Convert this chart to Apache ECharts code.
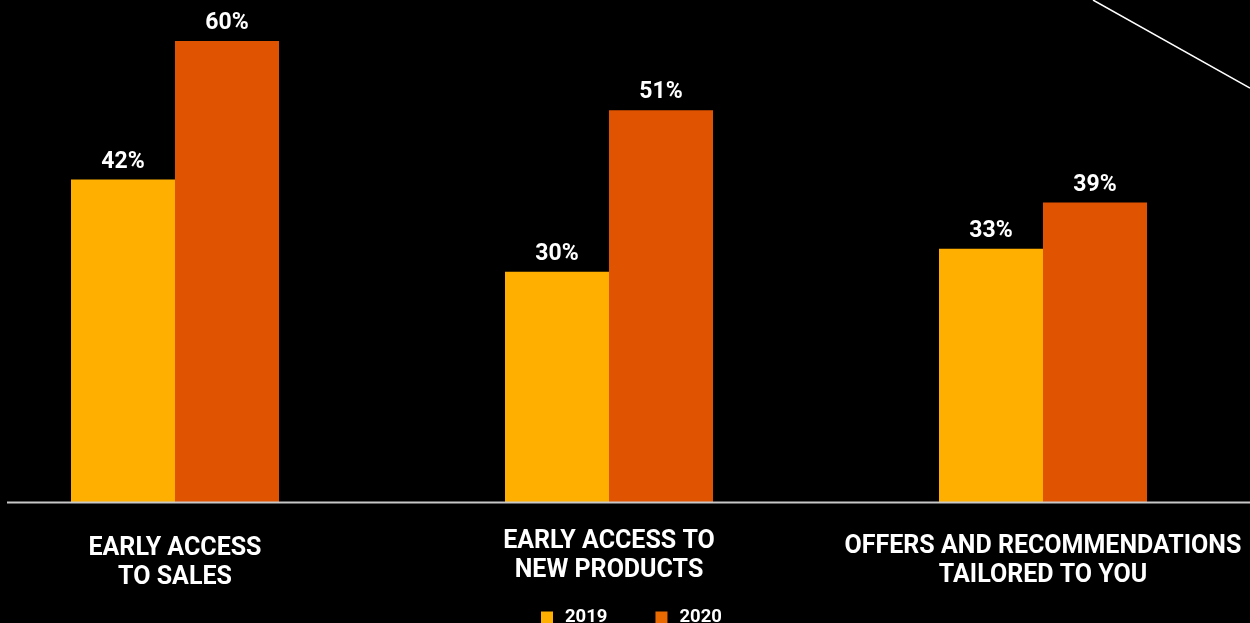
<!DOCTYPE html>
<html>
<head>
<meta charset="utf-8">
<script src="https://cdn.jsdelivr.net/npm/echarts@6/dist/echarts.min.js"></script>
<style>
  html, body { margin: 0; padding: 0; background: #000; }
  #chart { width: 1250px; height: 623px; }
</style>
</head>
<body>
<div id="chart"></div>
<script>
// Benefits valued by members, share of respondents by year
const categories = [
  'EARLY ACCESS\nTO SALES',
  'EARLY ACCESS TO\nNEW PRODUCTS',
  'OFFERS AND RECOMMENDATIONS\nTAILORED TO YOU'
];
const seriesNames = ['2019', '2020'];
const values2019 = [42, 30, 33];
const values2020 = [60, 51, 39];

// small per-category nudges of the axis label block
const labelOffsets = [7, 0, 5];

const COLOR_2019 = '#FFAF00';
const COLOR_2020 = '#E05300';
const FONT = 'Roboto, "Noto Sans", sans-serif';

const chart = echarts.init(document.getElementById('chart'), null, { renderer: 'canvas' });

const valueLabel = {
  show: true,
  position: 'top',
  distance: 6,
  formatter: '{c}%',
  color: '#fff',
  fontFamily: FONT,
  fontWeight: 'bold',
  fontSize: 23
};

chart.setOption({
  backgroundColor: '#000',
  animation: false,
  grid: {
    left: -42, width: 1302, top: 41, bottom: 120.5,
    containLabel: false,
    outerBoundsMode: 'none'
  },
  legend: {
    data: [
      { name: seriesNames[0], itemStyle: { color: COLOR_2019 } },
      { name: seriesNames[1], itemStyle: { color: '#E86A00' } }
    ],
    left: 541,
    top: 608,
    padding: 0,
    itemWidth: 12,
    itemHeight: 12,
    itemGap: 48,
    icon: 'rect',
    textStyle: {
      color: '#fff', fontFamily: FONT, fontWeight: 'bold',
      fontSize: 18.5, lineHeight: 12, padding: [0, 0, 0, 7]
    }
  },
  xAxis: {
    type: 'category',
    data: categories.map((c, i) => ({ value: c, textStyle: { padding: [labelOffsets[i], 0, 0, 0] } })),
    axisLine: { show: false },
    axisTick: { show: false },
    axisLabel: {
      color: '#fff',
      fontFamily: FONT,
      fontWeight: 'bold',
      fontSize: 25,
      lineHeight: 29,
      margin: 25,
      interval: 0
    }
  },
  yAxis: {
    type: 'value',
    min: 0,
    max: v => v.max,
    show: false,
    splitLine: { show: false }
  },
  series: [
    {
      name: seriesNames[0], type: 'bar', data: values2019,
      barWidth: 104, barGap: '0%',
      itemStyle: { color: COLOR_2019 },
      label: valueLabel
    },
    {
      name: seriesNames[1], type: 'bar', data: values2020,
      barWidth: 104, barGap: '0%',
      itemStyle: { color: COLOR_2020 },
      label: valueLabel
    }
  ]
});

// baseline rule across the chart and the thin diagonal accent at top right
const baseY = chart.convertToPixel({ yAxisIndex: 0 }, 0);
chart.setOption({
  graphic: [
    {
      type: 'line',
      shape: { x1: 7, y1: baseY, x2: 1250, y2: baseY },
      style: { stroke: '#c8c8c8', lineWidth: 2 },
      z: 10
    },
    {
      type: 'line',
      shape: { x1: 1093, y1: 0, x2: 1250, y2: 88 },
      style: { stroke: '#ffffff', lineWidth: 1.5 },
      z: 10
    }
  ]
});
</script>
</body>
</html>
